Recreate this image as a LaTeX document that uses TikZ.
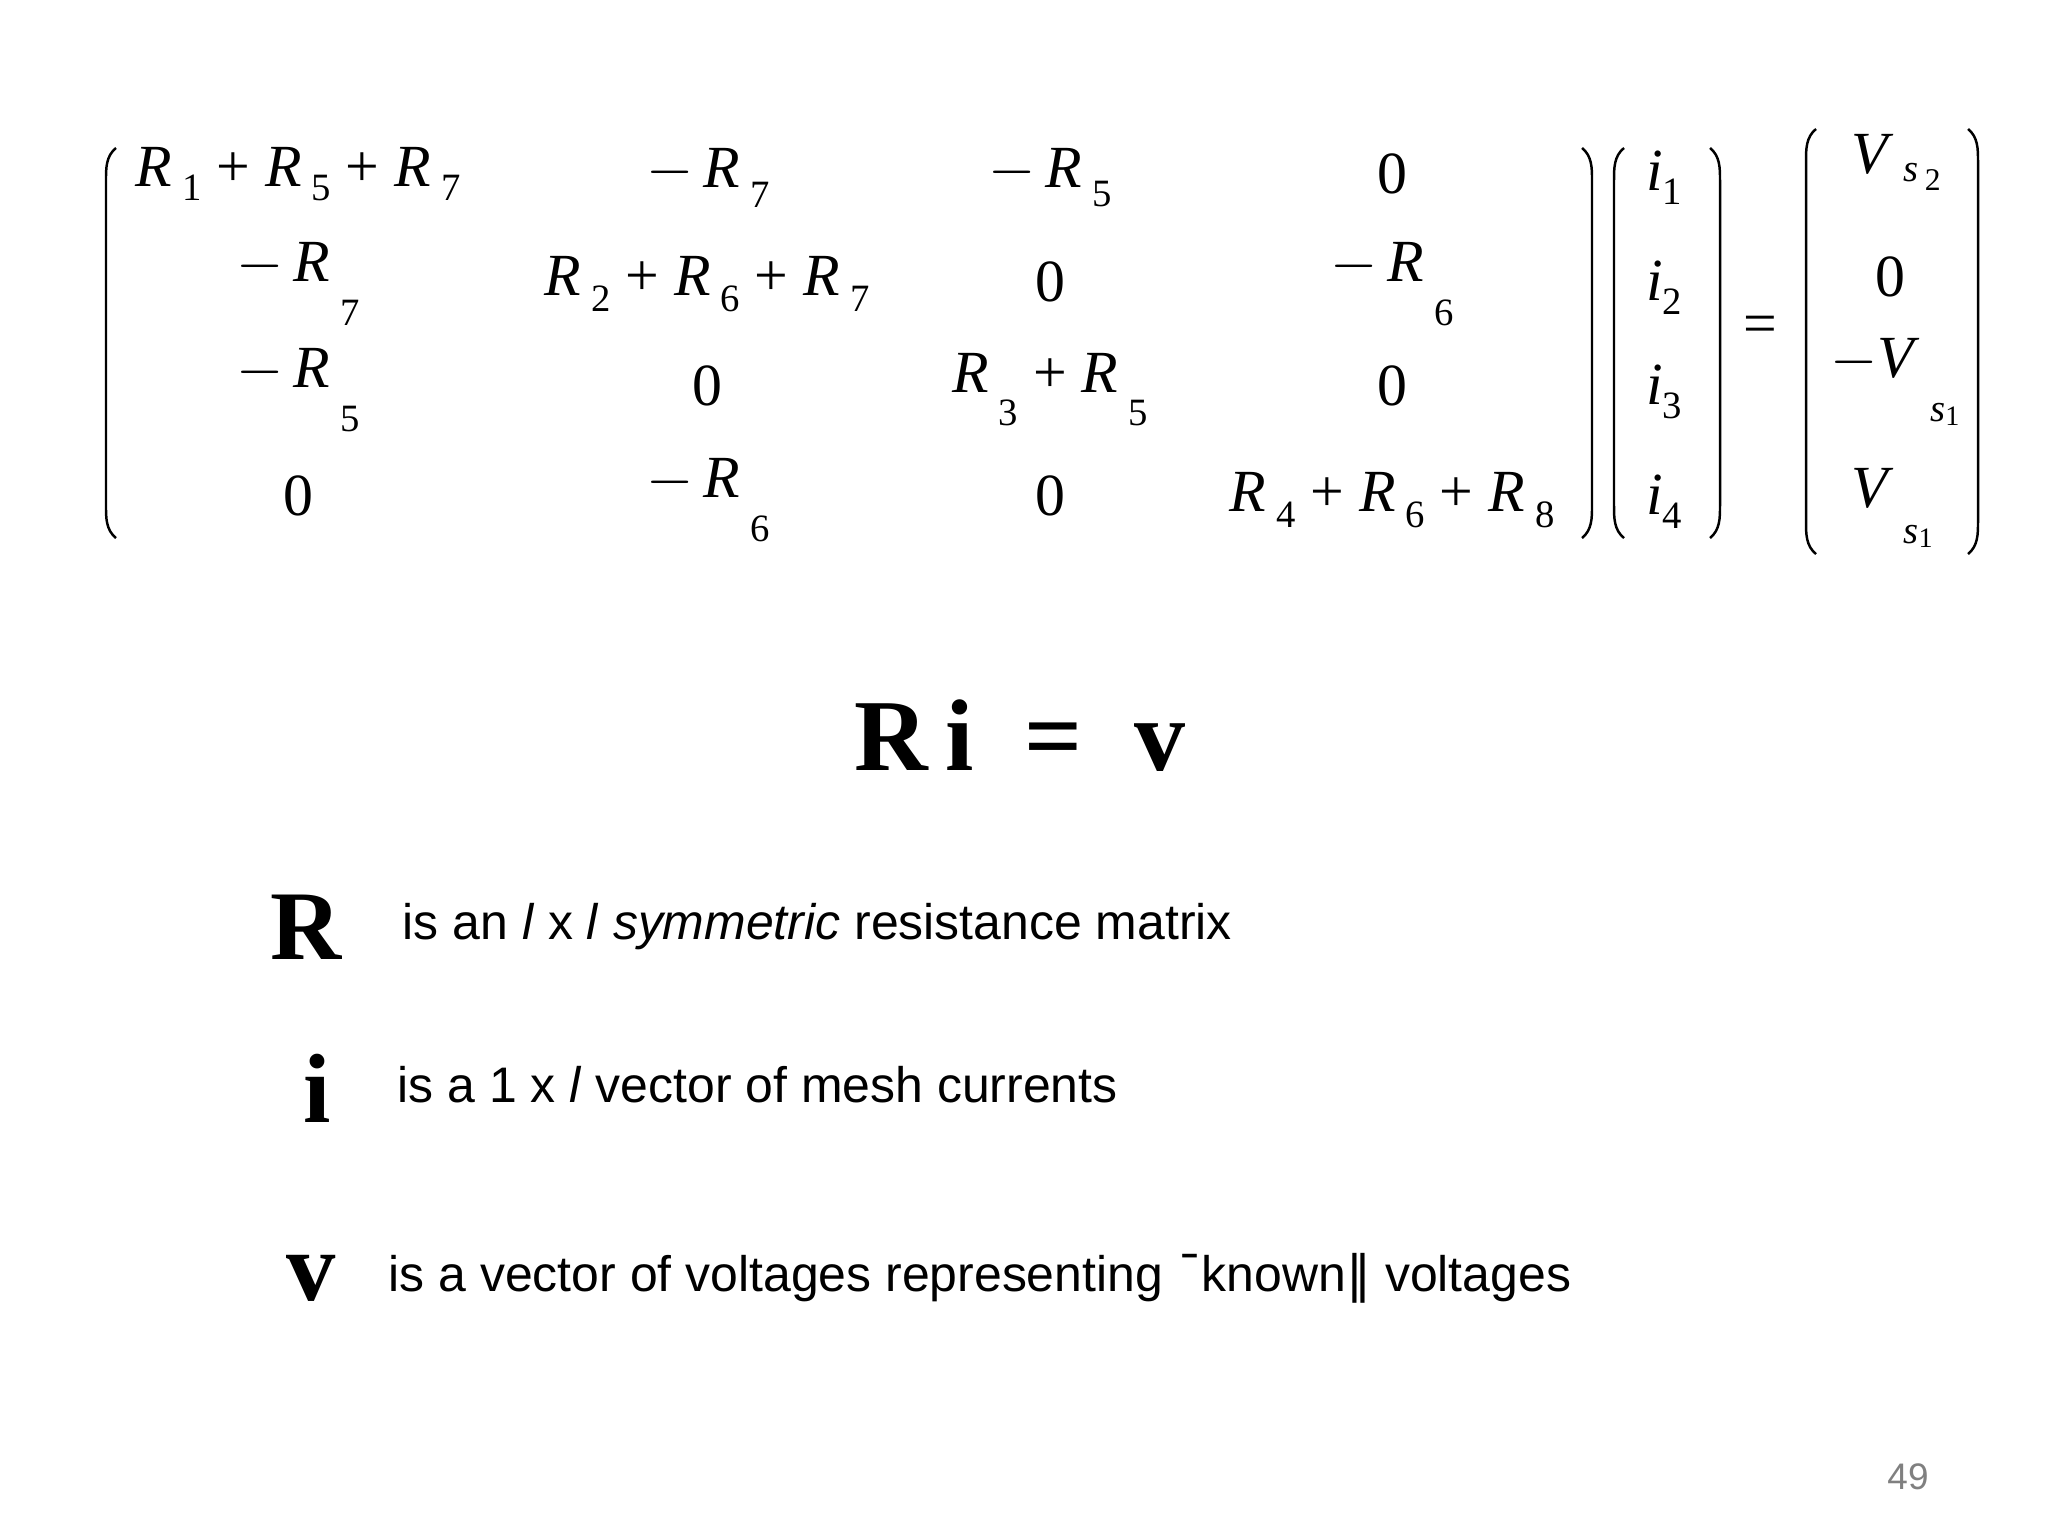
\documentclass[tikz,border=0pt]{standalone}
\usepackage{fontspec}
\setmainfont{Liberation Serif}
\setsansfont{Liberation Sans}
\newfontfamily\dejavu{DejaVu Sans}
\newcommand\Rs[2]{\textit{R}\,\raisebox{#1}{\fontsize{11}{11}\selectfont #2}}
\newcommand\Ii[1]{\textit{i}\raisebox{-0.5ex}{\fontsize{11}{11}\selectfont #1}}
\newcommand\pl{\ +\ }
\newcommand\mlparen[3]{\draw[parenline] (#1+10,#2) .. controls (#1,#2+8) and (#1,#2+20) .. (#1,#2+32) -- (#1,#3-32) .. controls (#1,#3-20) and (#1,#3-8) .. (#1+10,#3);}
\newcommand\mrparen[3]{\draw[parenline] (#1-10,#2) .. controls (#1,#2+8) and (#1,#2+20) .. (#1,#2+32) -- (#1,#3-32) .. controls (#1,#3-20) and (#1,#3-8) .. (#1-10,#3);}
\begin{document}
\begin{tikzpicture}[x=0.01cm,y=-0.01cm,
  parenline/.style={line width=0.7pt},
  ent/.style={font=\fontsize{17}{20}\selectfont, inner sep=0pt},
  txt/.style={font=\sffamily\fontsize{14.2}{17}\selectfont, anchor=west, inner sep=0pt},
  big/.style={font=\bfseries\fontsize{28}{32}\selectfont, inner sep=0pt}]
\useasboundingbox[fill=white] (0,0) rectangle (2048,1536);
% matrix entries
\node[ent] (a11) at (298,174) {\Rs{-0.5ex}{1}\pl\Rs{-0.5ex}{5}\pl\Rs{-0.5ex}{7}};
\node[ent] (a12) at (708,178) {$-$\,\Rs{-0.7ex}{7}};
\node[ent] (a13) at (1050,178) {$-$\,\Rs{-0.7ex}{5}};
\node[ent] (a14) at (1392,174) {0};
\node[ent] (a21) at (298,284) {$-$\,\Rs{-1.6ex}{7}};
\node[ent] (a22) at (707,284) {\Rs{-0.6ex}{2}\pl\Rs{-0.6ex}{6}\pl\Rs{-0.6ex}{7}};
\node[ent] (a23) at (1050,282) {0};
\node[ent] (a24) at (1392,284) {$-$\,\Rs{-1.6ex}{6}};
\node[ent] (a31) at (298,390) {$-$\,\Rs{-1.6ex}{5}};
\node[ent] (a32) at (707,386) {0};
\node[ent] (a33) at (1050,390) {\Rs{-1.2ex}{3}\pl\Rs{-1.2ex}{5}};
\node[ent] (a34) at (1392,386) {0};
\node[ent] (a41) at (298,496) {0};
\node[ent] (a42) at (708,500) {$-$\,\Rs{-1.6ex}{6}};
\node[ent] (a43) at (1050,496) {0};
\node[ent] (a44) at (1392,500) {\Rs{-0.6ex}{4}\pl\Rs{-0.6ex}{6}\pl\Rs{-0.6ex}{8}};
\mlparen{106}{148}{538}
\mrparen{1592}{148}{538}
% i vector
\node[ent] (i1) at (1664,178) {\Ii{1}};
\node[ent] (i2) at (1664,288) {\Ii{2}};
\node[ent] (i3) at (1664,392) {\Ii{3}};
\node[ent] (i4) at (1664,502) {\Ii{4}};
\mlparen{1614}{148}{538}
\mrparen{1720}{148}{538}
\node[ent] (eq) at (1760,330) {=};
% v vector
\node[ent] (v1) at (1896,162) {\textit{V}\,\raisebox{-0.3ex}{\fontsize{11}{11}\selectfont\textit{s}\,\raisebox{-0.5ex}{\fontsize{9}{9}\selectfont 2}}};
\node[ent] (v2) at (1890,277) {0};
\node[ent] (v3) at (1895,382) {$-$\textit{V}\,\raisebox{-1.6ex}{\fontsize{11}{11}\selectfont\textit{s}\raisebox{-0.2ex}{\fontsize{8}{8}\selectfont 1}}};
\node[ent] (v4) at (1892,508) {\textit{V}\,\raisebox{-1.3ex}{\fontsize{11}{11}\selectfont\textit{s}\raisebox{-0.2ex}{\fontsize{8}{8}\selectfont 1}}};
\mlparen{1806}{129}{554}
\mrparen{1978}{129}{554}
% R i = v
\node[big,font=\bfseries\fontsize{29}{33}\selectfont] (riv) at (1020,736) {R\,i \ = \ v};
% descriptions
\node[big] (bR) at (306,927) {R};
\node[txt] (tR) at (402,927) {is an \textit{l} x \textit{l} \textit{symmetric} resistance matrix};
\node[big] (bi) at (317,1088) {i};
\node[txt] (ti) at (397,1085) {is a 1 x \textit{l} vector of mesh currents};
\node[big] (bv) at (311,1278) {v};
\node[txt] (tv) at (388,1278) {is a vector of voltages representing {\dejavu ¯}known{\dejavu ‖} voltages};
\node[font=\sffamily\fontsize{10.5}{13}\selectfont, text=gray] (pg) at (1908,1477) {49};
\end{tikzpicture}
\end{document}
